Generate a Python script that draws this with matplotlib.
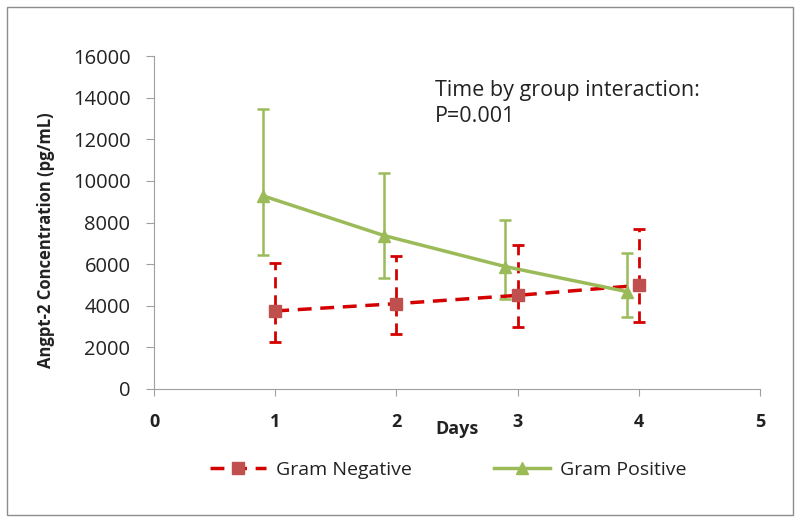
import numpy as np
import matplotlib.pyplot as plt
from matplotlib.patches import Rectangle

plt.rcParams['font.family'] = ['Open Sans', 'DejaVu Sans']

days = [1, 2, 3, 4]
neg_mean = [3750, 4100, 4500, 4980]
neg_upper = [6070, 6400, 6900, 7690]
neg_lower = [2270, 2640, 2960, 3220]
pos_mean = [9280, 7370, 5880, 4680]
pos_upper = [13460, 10370, 8120, 6540]
pos_lower = [6440, 5320, 4340, 3450]

RED_LINE = '#d40000'
RED_MARK = '#c0504d'
GREEN = '#9bbb59'
GRAY = '#a0a0a0'
TXT = '#222222'

fig = plt.figure(figsize=(8, 5.27), dpi=100)
fig.patches.append(Rectangle((7 / 800, 1 - 515 / 527), 786 / 800, 508 / 527,
                             transform=fig.transFigure, fill=False,
                             edgecolor='#8c8c8c', linewidth=1))
ax = fig.add_axes([154 / 800, 1 - 389 / 527, 606 / 800, 333 / 527])

x = np.array(days, dtype=float)
xpos = x - 0.1

neg_err = [np.array(neg_mean) - np.array(neg_lower),
           np.array(neg_upper) - np.array(neg_mean)]
pos_err = [np.array(pos_mean) - np.array(pos_lower),
           np.array(pos_upper) - np.array(pos_mean)]

eb = ax.errorbar(x, neg_mean, yerr=neg_err, fmt='none', ecolor=RED_LINE,
                 elinewidth=2, capsize=4, capthick=2, zorder=2)
eb[2][0].set_linestyle((0, (4, 2.5)))
ln_neg, = ax.plot(x, neg_mean, color=RED_LINE, lw=2.5, ls=(0, (4, 2.5)),
                  marker='s', ms=9, mfc=RED_MARK, mec=RED_MARK, zorder=3,
                  label='Gram Negative')

ax.errorbar(xpos, pos_mean, yerr=pos_err, fmt='none', ecolor=GREEN,
            elinewidth=1.8, capsize=4, capthick=1.8, zorder=2)
ln_pos, = ax.plot(xpos, pos_mean, color=GREEN, lw=2.5, marker='^', ms=9,
                  mfc=GREEN, mec=GREEN, zorder=3, label='Gram Positive')

ax.set_xlim(0, 5)
ax.set_ylim(0, 16000)
ax.set_xticks(range(0, 6))
ax.set_yticks(range(0, 16001, 2000))
for lab in ax.get_xticklabels():
    lab.set_fontweight('bold')
ax.tick_params(axis='x', labelsize=13, length=5, color=GRAY, pad=12,
               labelcolor=TXT)
ax.tick_params(axis='y', labelsize=14.5, length=6, color=GRAY, pad=11,
               labelcolor=TXT)
for s in ['top', 'right']:
    ax.spines[s].set_visible(False)
for s in ['left', 'bottom']:
    ax.spines[s].set_color(GRAY)

ax.set_xlabel('Days', fontsize=13, fontweight='bold', labelpad=-8,
              color=TXT)
ax.set_ylabel('Angpt-2 Concentration (pg/mL)', fontsize=12,
              fontweight='bold', color=TXT)
ax.yaxis.set_label_coords(-0.163, 0.447)

ax.text(2.32, 13700, 'Time by group interaction:\nP=0.001', fontsize=15.5,
        color=TXT, va='center', linespacing=1.3)

fig.legend(handles=[ln_neg, ln_pos], loc='center', ncol=2, frameon=False,
           bbox_to_anchor=(0.56, 1 - 470 / 527), fontsize=14,
           handlelength=2.9, columnspacing=4.2, handletextpad=0.5,
           labelcolor=TXT)

fig.savefig('out.png', dpi=100)
